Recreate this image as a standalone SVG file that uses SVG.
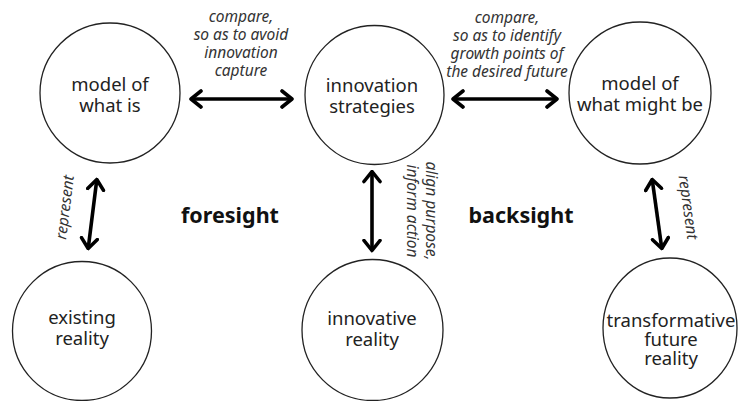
<svg xmlns="http://www.w3.org/2000/svg" width="739" height="401" viewBox="0 0 739 401">
  <style>
    .node circle, .node ellipse { fill: #fff; stroke: #222; stroke-width: 1.3; }
    .nt { font-family: "Noto Sans", "Open Sans", sans-serif; font-size: 18.5px; fill: #222; text-anchor: middle; }
    .lbl { font-family: "Noto Sans", "Open Sans", sans-serif; font-size: 15.5px; font-style: italic; fill: #333; text-anchor: middle; }
    .big { font-family: "Noto Sans", "Open Sans", sans-serif; font-size: 21.5px; font-weight: bold; fill: #111; text-anchor: middle; }
    .arrow { fill: none; stroke: #000; stroke-width: 3.6; marker-start: url(#head); marker-end: url(#head); }
  </style>
  <defs>
    <marker id="head" viewBox="0 0 14 20" refX="12" refY="10" markerWidth="14" markerHeight="20" markerUnits="userSpaceOnUse" orient="auto-start-reverse">
      <path d="M2,2 L12,10 L2,18" fill="none" stroke="#000" stroke-width="3.6" stroke-linejoin="round" stroke-linecap="round"/>
    </marker>
  </defs>
  <rect width="739" height="401" fill="#fff"/>

  <g id="connectors">
    <line class="arrow" x1="191" y1="99" x2="292" y2="99"/>
    <line class="arrow" x1="453" y1="99" x2="557" y2="99"/>
    <line class="arrow" x1="96.8" y1="179.5" x2="88.2" y2="248.5"/>
    <line class="arrow" x1="372" y1="171.5" x2="372" y2="250.5"/>
    <line class="arrow" x1="652.2" y1="179.5" x2="661.8" y2="248.5"/>
  </g>

  <g id="labels">
    <text class="lbl"><tspan x="241" y="22">compare,</tspan><tspan x="241" y="40">so as to avoid</tspan><tspan x="241" y="58">innovation</tspan><tspan x="241" y="76">capture</tspan></text>
    <text class="lbl"><tspan x="507" y="23">compare,</tspan><tspan x="507" y="41">so as to identify</tspan><tspan x="507" y="59">growth points of</tspan><tspan x="507" y="77">the desired future</tspan></text>
    <text class="lbl" transform="translate(70,208) rotate(-83)" x="0" y="0">represent</text>
    <text class="lbl" transform="translate(683,208) rotate(82)" x="0" y="0">represent</text>
    <text class="lbl" transform="translate(426,211) rotate(90)"><tspan x="0" y="0">align purpose,</tspan><tspan x="0" y="19">inform action</tspan></text>
    <text class="big" x="230" y="223">foresight</text>
    <text class="big" x="521" y="223">backsight</text>
  </g>

  <g id="model-what-is" class="node">
    <circle cx="110" cy="93" r="70"/>
    <text class="nt"><tspan x="110" y="91">model of</tspan><tspan x="110" y="112">what is</tspan></text>
  </g>
  <g id="innovation-strategies" class="node">
    <circle cx="374.5" cy="95" r="69.5"/>
    <text class="nt"><tspan x="372" y="92">innovation</tspan><tspan x="372" y="113">strategies</tspan></text>
  </g>
  <g id="model-what-might-be" class="node">
    <circle cx="640" cy="93" r="71"/>
    <text class="nt"><tspan x="640" y="90">model of</tspan><tspan x="640" y="111">what might be</tspan></text>
  </g>
  <g id="existing-reality" class="node">
    <circle cx="82" cy="331" r="69.5"/>
    <text class="nt"><tspan x="82" y="324">existing</tspan><tspan x="82" y="345">reality</tspan></text>
  </g>
  <g id="innovative-reality" class="node">
    <circle cx="372.5" cy="330" r="70.5"/>
    <text class="nt"><tspan x="372" y="325">innovative</tspan><tspan x="372" y="346">reality</tspan></text>
  </g>
  <g id="transformative-future-reality" class="node">
    <ellipse cx="670" cy="328" rx="67" ry="70"/>
    <text class="nt"><tspan x="671" y="327">transformative</tspan><tspan x="671" y="346">future</tspan><tspan x="671" y="365">reality</tspan></text>
  </g>
</svg>
